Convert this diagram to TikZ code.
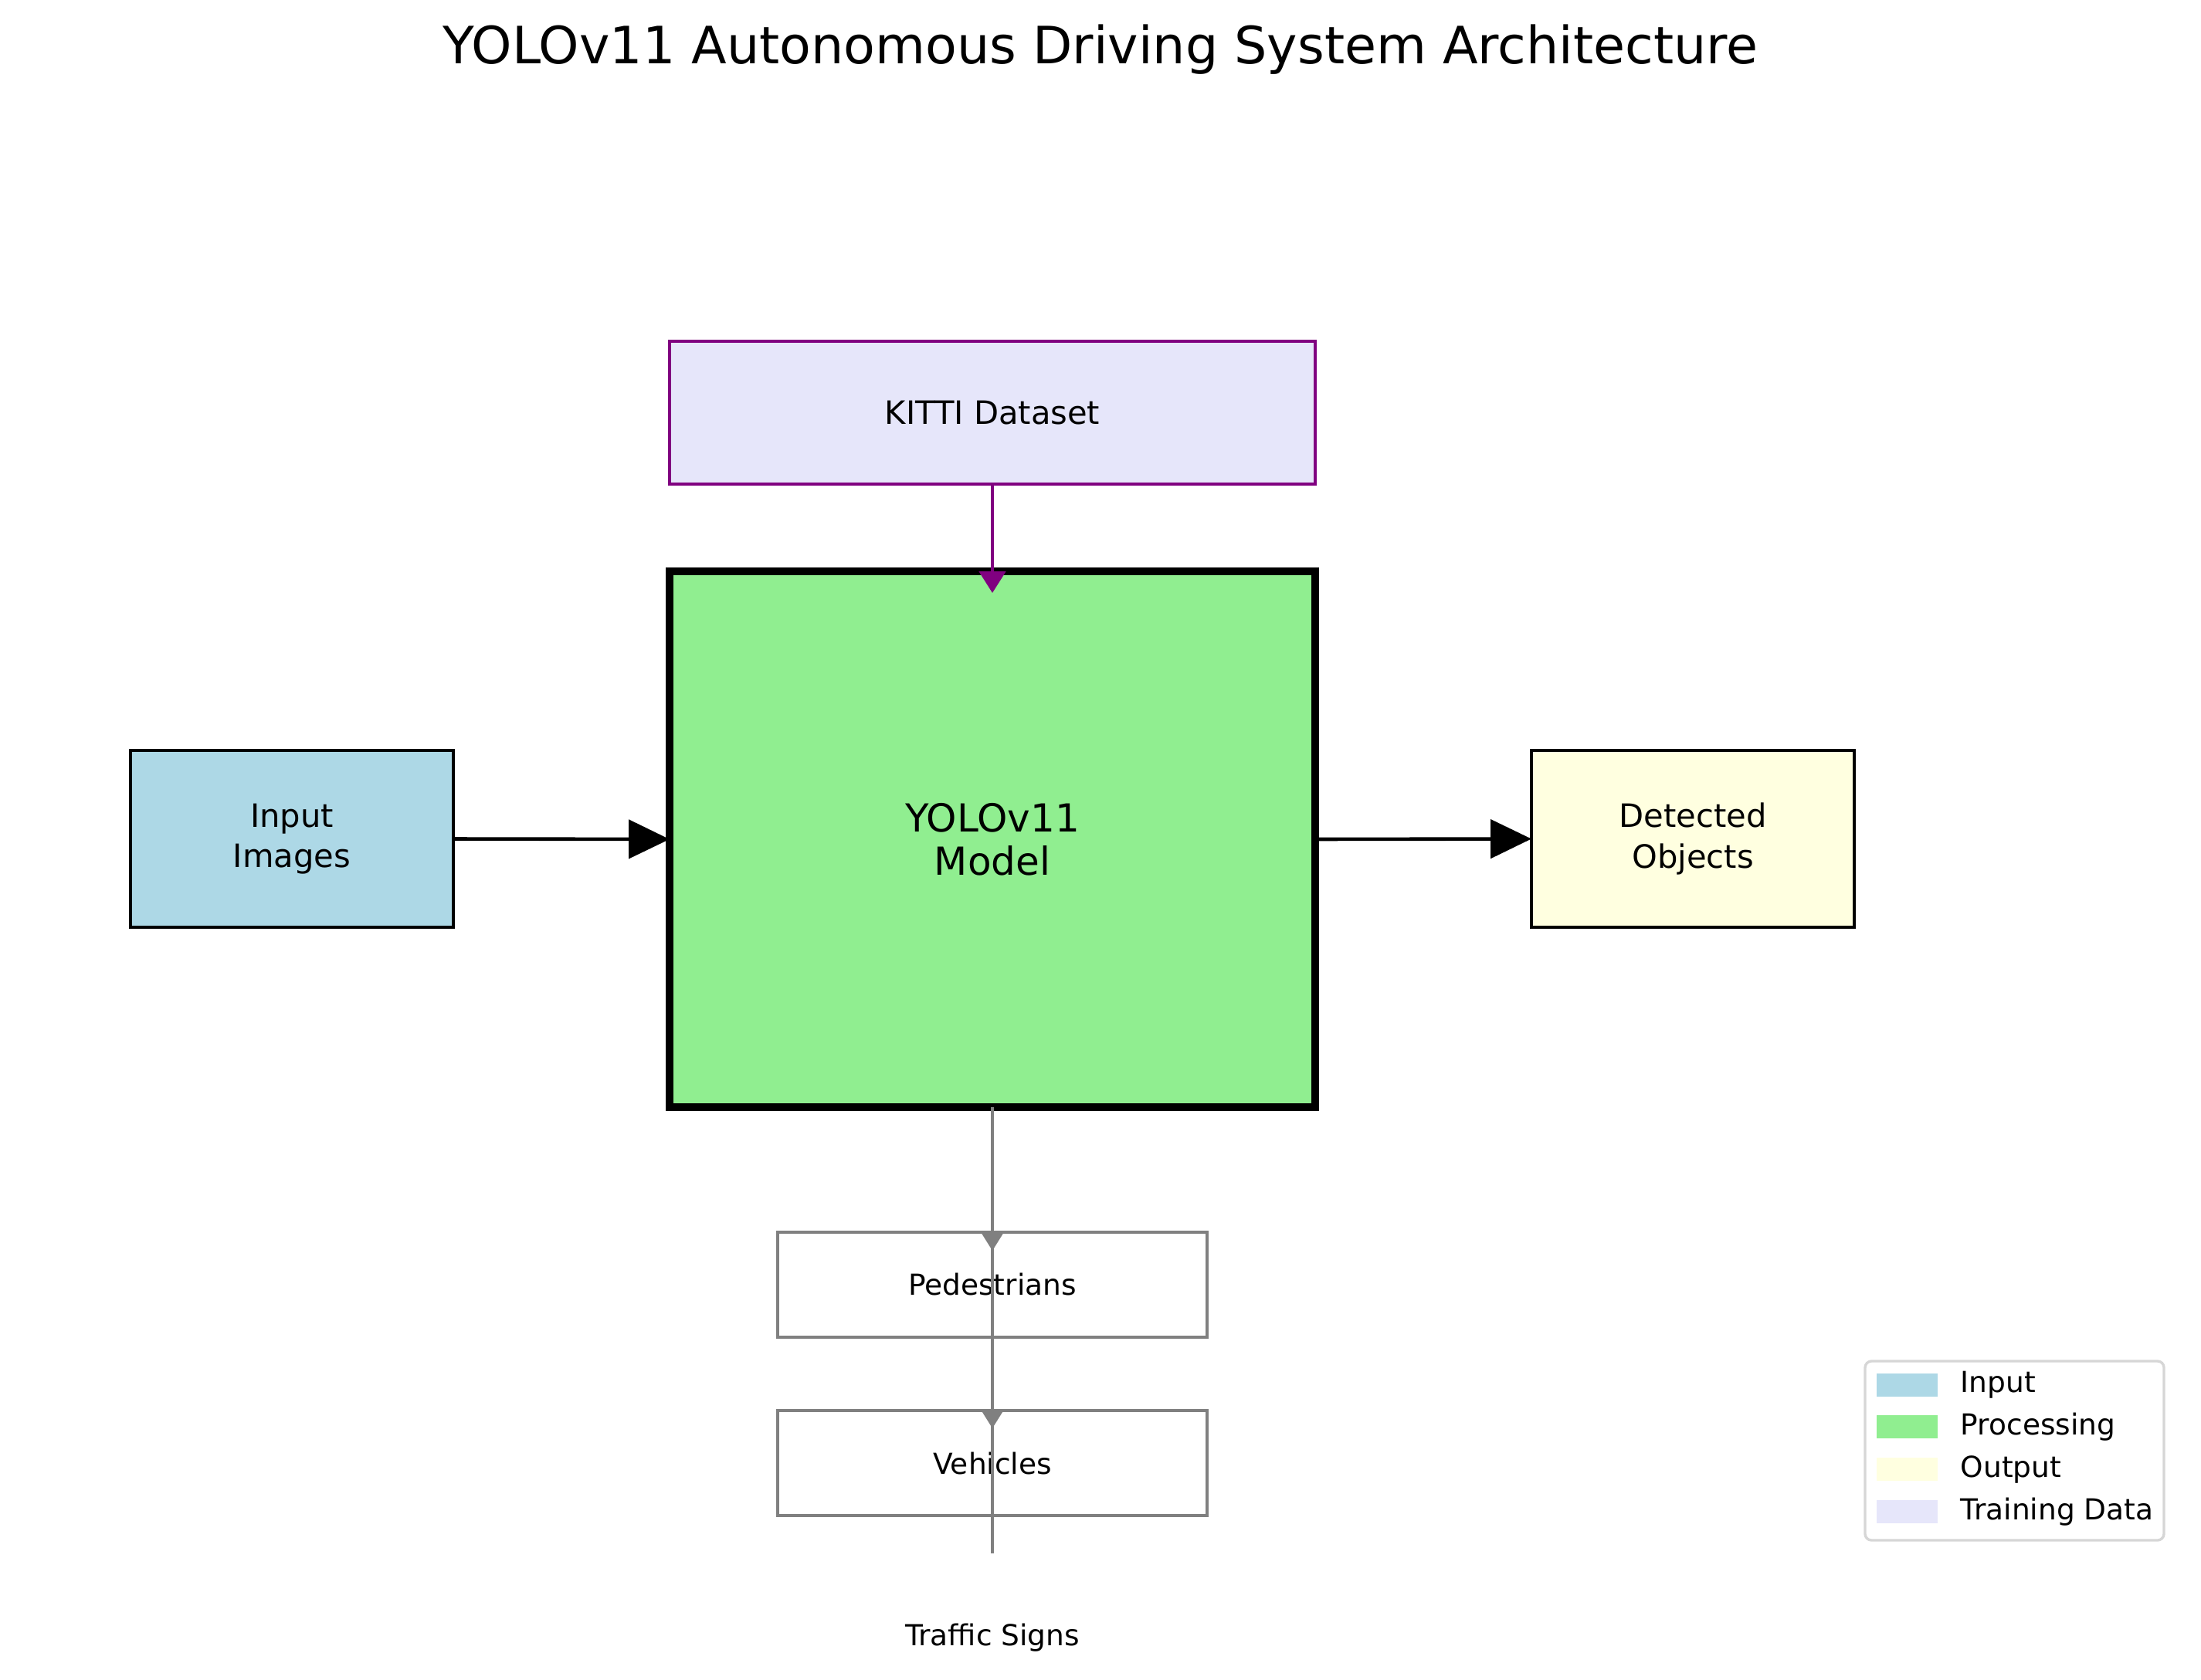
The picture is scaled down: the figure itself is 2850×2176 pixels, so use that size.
\documentclass[tikz,border=0pt]{standalone}
\usepackage{fontspec}
\setmainfont{DejaVu Sans}
\usetikzlibrary{arrows.meta}
\definecolor{inputc}{HTML}{ADD8E6}
\definecolor{procc}{HTML}{90EE90}
\definecolor{outc}{HTML}{FFFFE0}
\definecolor{trainc}{HTML}{E6E6FA}
\definecolor{purp}{HTML}{800080}
\definecolor{grayc}{HTML}{808080}
\definecolor{legborder}{HTML}{D6D6D6}
\tikzset{
  box/.style={draw, rectangle, outer sep=0pt, inner sep=0pt, align=center, font=\fontsize{10}{12.5}\selectfont},
  classbox/.style={draw=grayc, line width=1pt, fill=white, rectangle, outer sep=0pt, inner sep=0pt, font=\fontsize{9}{10.8}\selectfont, minimum width=556*0.24pt, minimum height=136*0.24pt},
  mainarrow/.style={line width=1.1pt, -{Triangle[length=12.7pt,width=12pt]}},
  kittiarrow/.style={line width=1pt, purp, -{Triangle[length=6.7pt,width=8.2pt]}},
  grayarrow/.style={line width=1pt, grayc, -{Triangle[length=6pt,width=7.2pt]}},
  grayline/.style={line width=1pt, grayc},
  legpatch/.style={rectangle, inner sep=0pt, minimum width=79*0.24pt, minimum height=30*0.24pt},
  legtext/.style={anchor=west, inner sep=0pt, font=\fontsize{9}{10.8}\selectfont},
}
\begin{document}
\begin{tikzpicture}[x=0.24pt,y=-0.24pt]
\fill[white] (0,0) rectangle (2850,2176);
\useasboundingbox (0,0) rectangle (2850,2176);
\node[anchor=base, font=\fontsize{16}{19.2}\selectfont] (title) at (1425,83) {YOLOv11 Autonomous Driving System Architecture};

\node[box, draw=purp, line width=1pt, fill=trainc, minimum width=836*0.24pt, minimum height=185*0.24pt] (kitti) at (1285,534.5) {KITTI Dataset};
\node[box, draw=black, line width=2.2pt, fill=procc, minimum width=836*0.24pt, minimum height=694*0.24pt, font=\fontsize{12}{13.5}\selectfont] (model) at (1285,1087) {YOLOv11\\Model};
\node[box, line width=1pt, fill=inputc, minimum width=418*0.24pt, minimum height=229*0.24pt] (input) at (378,1086.5) {Input\\Images};
\node[box, line width=1pt, fill=outc, minimum width=418*0.24pt, minimum height=229*0.24pt] (detected) at (2192,1086.5) {Detected\\Objects};

\node[classbox] (ped) at (1285,1664) {Pedestrians};
\node[classbox] (veh) at (1285,1895) {Vehicles};
\node[font=\fontsize{9}{10.8}\selectfont, inner sep=0pt] (signs) at (1285,2121) {Traffic Signs};

\coordinate (kittitip) at (1285,768);
\coordinate (pedtip) at (1285,1620);
\coordinate (vehtip) at (1285,1850);
\coordinate (signend) at (1285,2012);

\draw[mainarrow] (input.east) -- (model.west);
\draw[mainarrow] (model.east) -- (detected.west);
\draw[kittiarrow] (kitti.south) -- (kittitip);
\draw[grayarrow] (model.south) -- (pedtip);
\draw[grayarrow] (model.south) -- (vehtip);
\draw[grayline] (model.south) -- (signend);

% legend
\draw[legborder, line width=0.8pt, fill=white, rounded corners=2pt] (2415,1763) rectangle (2802,1995);
\node[legpatch, fill=inputc] (lp1) at (2469.5,1793.5) {};
\node[legpatch, fill=procc] (lp2) at (2469.5,1848) {};
\node[legpatch, fill=outc] (lp3) at (2469.5,1903) {};
\node[legpatch, fill=trainc] (lp4) at (2469.5,1958) {};
\node[legtext] (lt1) at (2538,1793.5) {Input};
\node[legtext] (lt2) at (2538,1848) {Processing};
\node[legtext] (lt3) at (2538,1903) {Output};
\node[legtext] (lt4) at (2538,1958) {Training Data};
\end{tikzpicture}
\end{document}
